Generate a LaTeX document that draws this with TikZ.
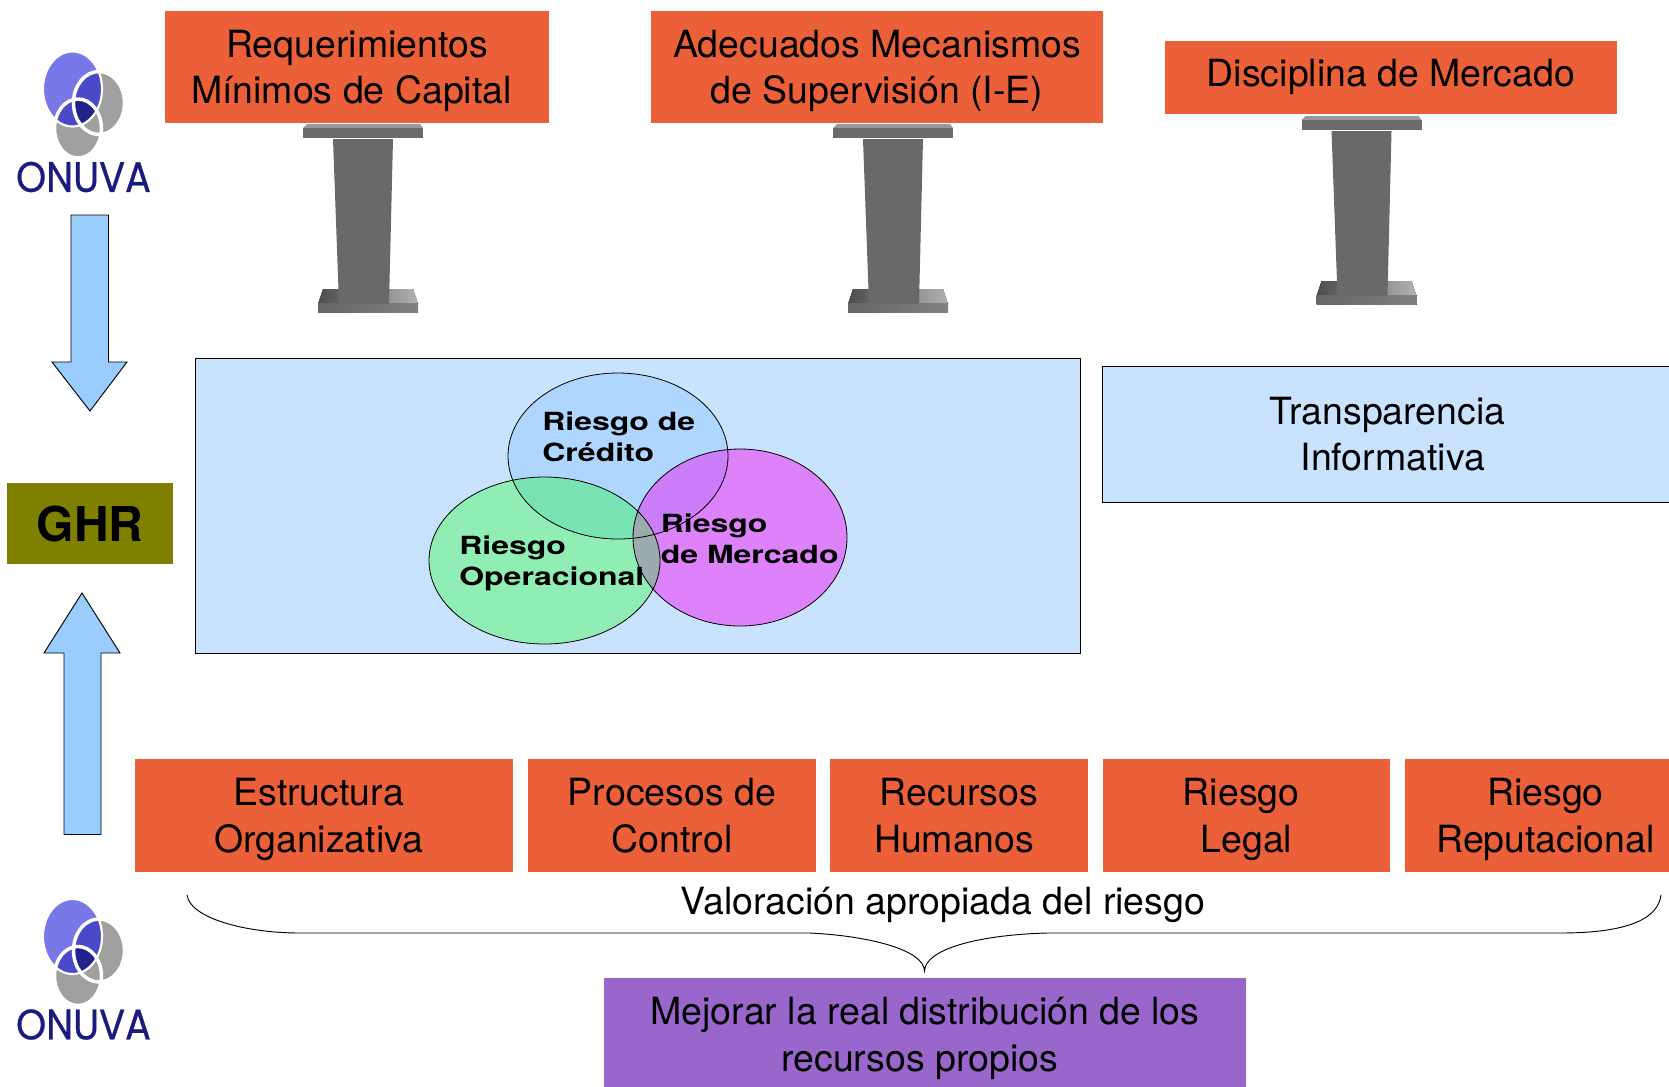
\documentclass[tikz,border=0pt]{standalone}
\usepackage{fontspec}
\setmainfont{TeX Gyre Heros}
\newfontfamily\logofont[FakeBold=0.7]{Poppins}
\usetikzlibrary{shapes.geometric}
\newdimen\px \px=0.75pt
\newcommand{\st}{\rule[-9.1\px]{0pt}{45.1\px}}
\newcommand{\stb}{\rule[-13.2\px]{0pt}{45.1\px}}
\definecolor{orangecol}{HTML}{EB6039}
\definecolor{paleblue}{HTML}{C9E3FF}
\definecolor{arrowblue}{HTML}{99CCFF}
\definecolor{ghrolive}{HTML}{808000}
\definecolor{purplebox}{HTML}{9966CC}
\definecolor{credcol}{HTML}{AED6FF}
\definecolor{mercol}{HTML}{DD82FA}
\definecolor{opcol}{HTML}{90EDB4}
\definecolor{credmer}{HTML}{CC7EFA}
\definecolor{credop}{HTML}{7AE3B4}
\definecolor{opmer}{HTML}{9CABB0}
\definecolor{navy}{HTML}{1A1A80}
\definecolor{logoblue}{HTML}{7878E8}
\definecolor{logomid}{HTML}{4A4AC8}
\definecolor{logodark}{HTML}{22228C}
\definecolor{logogray}{HTML}{A0A0A0}
\definecolor{pedcol}{HTML}{696969}
\tikzset{
  x=0.75pt,y=-0.75pt,
  flat/.style={rectangle,inner sep=0pt,outer sep=0pt,align=center,font=\fontsize{28.1}{35}\selectfont},
  orangebox/.style={flat,fill=orangecol},
  palebox/.style={flat,fill=paleblue,draw=black,line width=0.7pt},
  venntxt/.style={inner sep=0pt,anchor=west,font=\fontsize{18.75}{23.5}\selectfont\bfseries},
  blockarrow/.style={fill=arrowblue,draw=black,line width=0.7pt,line join=miter},
  venn/.style={draw=black,line width=0.6pt},
  onuva/.pic={
    \def\ea{(72.5,89) ellipse [x radius=29.5,y radius=37.5]}
    \def\eb{(99,103) ellipse [x radius=25.5,y radius=31.5]}
    \def\ec{(78,128.5) ellipse [x radius=23.5,y radius=29.5]}
    \fill[logogray] \eb;
    \fill[logogray] \ec;
    \fill[logoblue] \ea;
    \begin{scope}\clip \ea; \fill[logomid] \eb; \fill[logomid] \ec;
      \begin{scope}\clip \eb; \fill[logodark] \ec; \end{scope}
    \end{scope}
    \draw[white,line width=2.6pt] \eb;
    \draw[white,line width=2.6pt] \ec;
    \draw[white,line width=1.6pt] \ea;
    \node[inner sep=0pt,text=navy] (-word) at (83.5,177)
      {\scalebox{0.90}[1]{\logofont\fontsize{32}{32}\selectfont ONUVA}};
  },
  pedestal/.pic={
    \fill[left color=black!70!white,right color=black!30!white] (323,289) -- (413,289) -- (418,304) -- (318,304) -- cycle;
    \fill[left color=black!60!white,right color=black!50!white] (318,303) rectangle (418,312.5);
    \fill[black!40!white] (307,124) -- (420,124) -- (423,128) -- (303,128) -- cycle;
    \fill[black!58!white] (303,128) rectangle (423,138);
    \fill[pedcol] (333,139) -- (393,139) -- (389,304) -- (339,304) -- cycle;
  }
}
\begin{document}
\begin{tikzpicture}
\useasboundingbox (0,0) rectangle (1669,1086);

% logos
\pic (logoa) at (0,0) {onuva};
\pic (logob) at (0,847.5) {onuva};

% top boxes
\node[orangebox,minimum width=384\px,minimum height=112\px] (req) at (357,67)
  {\st Requerimientos\\\st Mínimos de Capital\hspace*{11\px}};
\node[orangebox,minimum width=452\px,minimum height=112\px] (ade) at (877,67)
  {\st Adecuados Mecanismos\\\st de Supervisión (I-E)};
\node[orangebox,minimum width=452\px,minimum height=73\px] (dis) at (1391,77.5)
  {\stb Disciplina de Mercado};

% pedestals
\pic (pa) at (0,0) {pedestal};
\pic (pb) at (530,0) {pedestal};
\pic (pc) at (998.5,-8) {pedestal};

% risk panel
\node[palebox,minimum width=885\px,minimum height=295\px] (panel) at (637.5,505.5) {};
\node[palebox,minimum width=576\px,minimum height=136\px] (transp) at (1390,434)
  {\st Transparencia\hspace*{5\px}\\\st\hspace*{5.4\px}Informativa};

% venn
\def\vc{(618,456) ellipse [x radius=110,y radius=83]}
\def\vm{(740,537.5) ellipse [x radius=107,y radius=88.5]}
\def\vo{(544.5,560.5) ellipse [x radius=115.5,y radius=83.5]}
\fill[credcol] \vc;
\fill[mercol] \vm;
\fill[opcol] \vo;
\begin{scope}\clip \vc; \fill[credmer] \vm; \fill[credop] \vo; \end{scope}
\begin{scope}\clip \vm; \fill[opmer] \vo; \end{scope}
\draw[venn] \vc;
\draw[venn] \vm;
\draw[venn] \vo;
\node[venntxt] (lc) at (542,439.5) {\scalebox{1.28}[1]{\begin{tabular}{@{}l@{}}Riesgo de\\Crédito\end{tabular}}};
\node[venntxt] (lm) at (660.5,542) {\scalebox{1.28}[1]{\begin{tabular}{@{}l@{}}Riesgo\\de Mercado\end{tabular}}};
\node[venntxt] (lo) at (459,564) {\scalebox{1.28}[1]{\begin{tabular}{@{}l@{}}Riesgo\\Operacional\end{tabular}}};

% left column
\node[flat,fill=ghrolive,minimum width=166\px,minimum height=81\px,font=\fontsize{36}{36}\selectfont\bfseries] (ghr) at (90,523.5) {GHR};
\draw[blockarrow] (71,215) -- (108.5,215) -- (108.5,362) -- (127,362) -- (90,411) -- (52,362) -- (71,362) -- cycle;
\draw[blockarrow] (64,834.5) -- (101,834.5) -- (101,653) -- (120,653) -- (82,593) -- (44,653) -- (64,653) -- cycle;

% bottom boxes
\node[orangebox,minimum width=378\px,minimum height=113\px] (est) at (324,815.5)
  {\st Estructura\hspace*{10.6\px}\\\st Organizativa\hspace*{10.6\px}};
\node[orangebox,minimum width=288\px,minimum height=113\px] (pro) at (672,815.5)
  {\st Procesos de\\\st Control};
\node[orangebox,minimum width=258\px,minimum height=113\px] (rec) at (959,815.5)
  {\st Recursos\\\st Humanos\hspace*{9.6\px}};
\node[orangebox,minimum width=287\px,minimum height=113\px] (leg) at (1246.5,815.5)
  {\st Riesgo\hspace*{10.6\px}\\\st Legal};
\node[orangebox,minimum width=281\px,minimum height=113\px] (rep) at (1545.5,815.5)
  {\st Riesgo\\\st Reputacional};

\node[flat] (val) at (943,901.5) {\st Valoración apropiada del riesgo};

% brace
\coordinate (bl) at (187,895);
\coordinate (bt) at (924.5,971);
\coordinate (br) at (1661,895);
\draw[line width=0.7pt] (bl) .. controls (190,918) and (245,933) .. (300,933) -- (810,933)
  .. controls (870,936) and (924,950) .. (bt)
  .. controls (925,950) and (975,935) .. (1047,933) -- (1560,933)
  .. controls (1630,933) and (1658,918) .. (br);

\node[flat,fill=purplebox,minimum width=642\px,minimum height=113\px] (mej) at (925,1034.5)
  {\st Mejorar la real distribución de los\\\st recursos propios\hspace*{10.6\px}};
\end{tikzpicture}
\end{document}
